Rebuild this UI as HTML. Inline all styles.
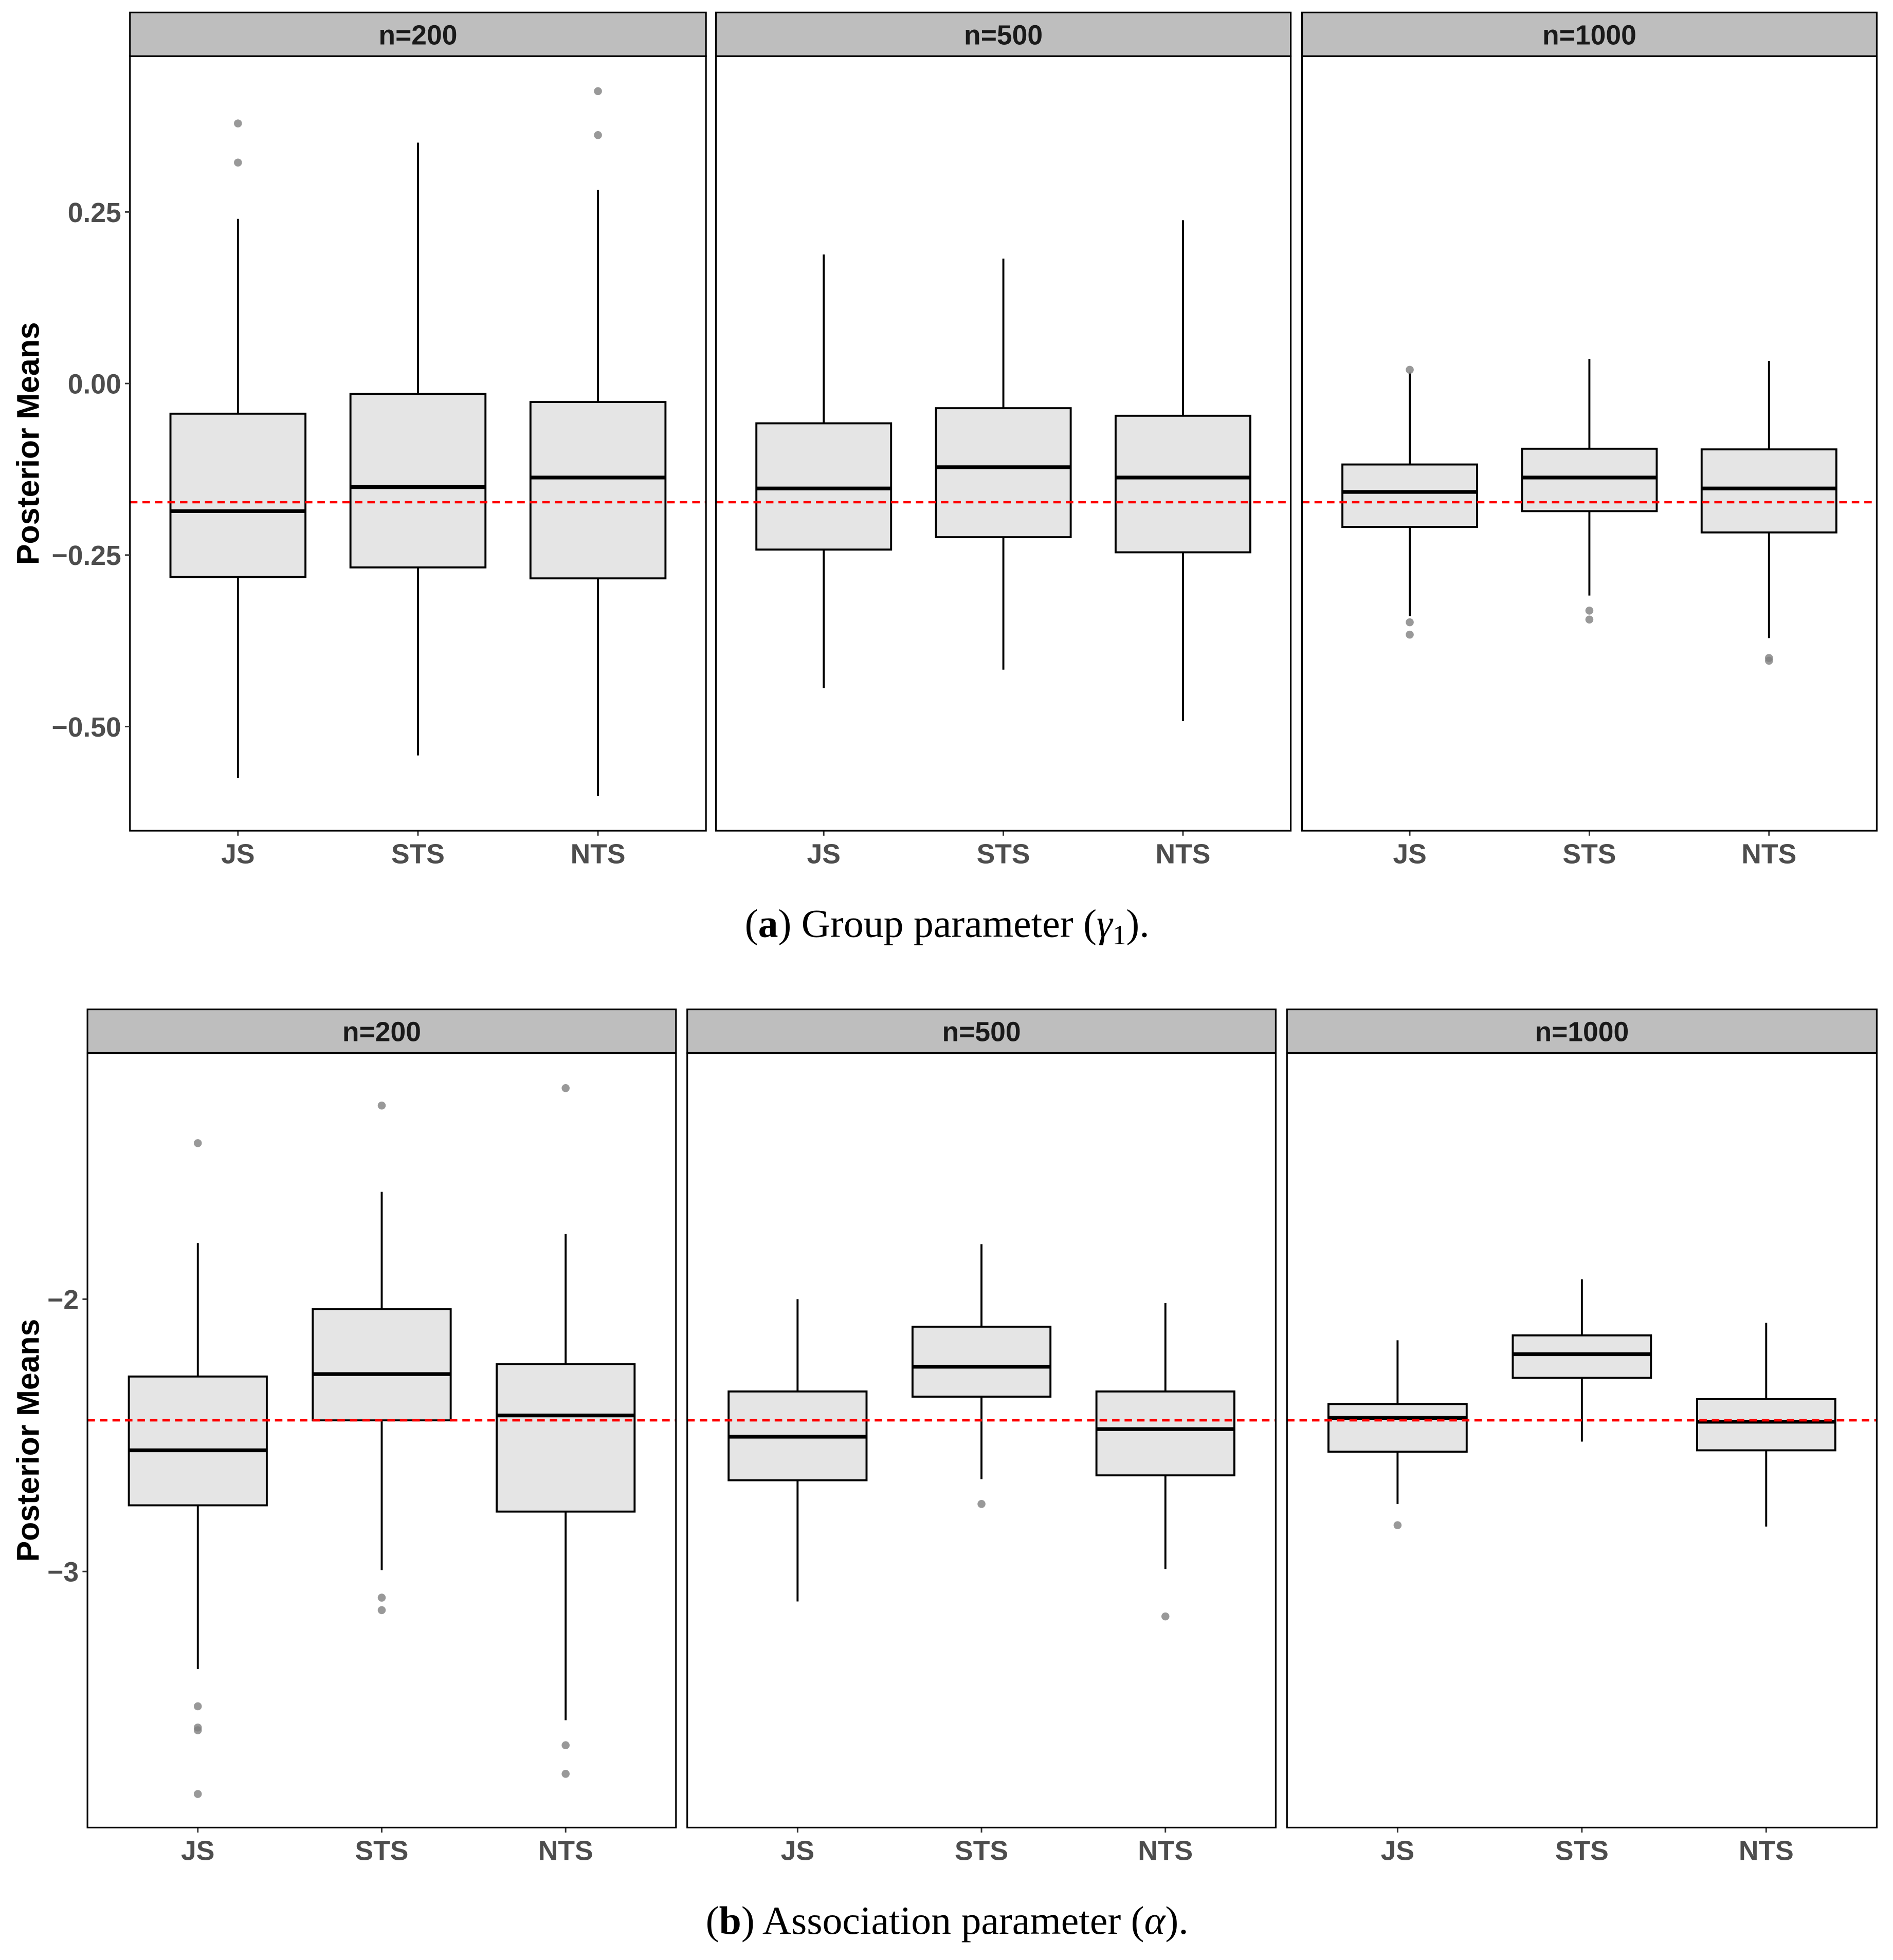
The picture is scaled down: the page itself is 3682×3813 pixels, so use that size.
<!DOCTYPE html>
<html><head><meta charset="utf-8">
<style>
html,body{margin:0;padding:0;background:#fff;}
svg{display:block;}
text{font-family:"Liberation Sans",sans-serif;}
</style></head>
<body>
<svg id="fig" width="3682" height="3813" viewBox="0 0 1515 1569" preserveAspectRatio="none" xmlns="http://www.w3.org/2000/svg"></svg>
<script>
// ---------- data ----------
const categories = ["JS","STS","NTS"];
const panelLabels = ["n=200","n=500","n=1000"];
// Chart A (gamma1): per panel, per category: [low, q1, median, q3, high]
const gammaStats = [
 [[-0.575,-0.282,-0.186,-0.044,0.240],[-0.542,-0.268,-0.151,-0.015,0.351],[-0.601,-0.284,-0.137,-0.027,0.282]],
 [[-0.444,-0.242,-0.153,-0.058,0.188],[-0.417,-0.224,-0.122,-0.036,0.182],[-0.492,-0.246,-0.137,-0.047,0.238]],
 [[-0.339,-0.209,-0.158,-0.118,0.016],[-0.309,-0.186,-0.137,-0.095,0.036],[-0.371,-0.217,-0.153,-0.096,0.033]]
];
const gammaOutliers = [
 [[0.379,0.322],[],[0.426,0.362]],
 [[],[],[]],
 [[0.020,-0.348,-0.366],[-0.331,-0.344],[-0.400,-0.404]]
];
const gammaTrue = -0.173;
const gammaTicks = [0.25,0.00,-0.25,-0.50];
const gammaTickLabels = ["0.25","0.00","\u22120.25","\u22120.50"];
// Chart B (alpha)
const alphaStats = [
 [[-3.358,-2.757,-2.555,-2.284,-1.794],[-2.995,-2.445,-2.275,-2.037,-1.606],[-3.546,-2.780,-2.427,-2.239,-1.761]],
 [[-3.110,-2.665,-2.505,-2.339,-2.000],[-2.661,-2.358,-2.248,-2.101,-1.798],[-2.991,-2.647,-2.477,-2.339,-2.014]],
 [[-2.752,-2.560,-2.436,-2.385,-2.151],[-2.523,-2.289,-2.202,-2.133,-1.927],[-2.835,-2.555,-2.450,-2.367,-2.087]]
];
const alphaOutliers = [
 [[-1.427,-3.495,-3.573,-3.583,-3.817],[-1.289,-3.096,-3.142],[-1.225,-3.638,-3.743]],
 [[],[-2.752],[-3.165]],
 [[-2.830],[],[]]
];
const alphaTrue = -2.445;
const alphaTicks = [-2,-3];
const alphaTickLabels = ["\u22122","\u22123"];

// ---------- drawing ----------
const svg = document.getElementById('fig');
const NS = "http://www.w3.org/2000/svg";
function el(tag, attrs, parent){
  const e = document.createElementNS(NS, tag);
  for (const k in attrs) e.setAttribute(k, attrs[k]);
  (parent||svg).appendChild(e);
  return e;
}

function drawChart(cfg){
  const g = el('g', {});
  
  
  const yScale = v => cfg.y0 + (v - cfg.v0) * cfg.k;
  cfg.panels.forEach((px, pi) => {
    const [x0, x1] = px;
    const w = x1 - x0;
    const xScale = i => x0 + w * (0.6 + i) / 3.2;
    const bw = w * 0.75 / 3.2;
    const pg = el('g', {}, g);
    
    
    const strip = el('rect', {x:x0, y:cfg.stripTop, width:w, height:cfg.plotTop-cfg.stripTop, fill:'#bebebe', stroke:'#000', 'stroke-width':1.3}, pg);
    
    
    const st = el('text', {x:x0+w/2, y:cfg.stripTop+(cfg.plotTop-cfg.stripTop)/2+8, 'text-anchor':'middle', 'font-size':22, 'font-weight':'bold', fill:'#1a1a1a'}, pg);
    st.textContent = panelLabels[pi];
    
    
    const bg = el('rect', {x:x0, y:cfg.plotTop, width:w, height:cfg.plotBottom-cfg.plotTop, fill:'#fff', stroke:'none'}, pg);
    
    
    categories.forEach((c, ci) => {
      const s = cfg.stats[pi][ci];
      const cx = xScale(ci);
      const bgp = el('g', {}, pg);
      
      
      el('line', {x1:cx, x2:cx, y1:yScale(s[4]), y2:yScale(s[3]), stroke:'#000', 'stroke-width':1.6}, bgp);
      el('line', {x1:cx, x2:cx, y1:yScale(s[1]), y2:yScale(s[0]), stroke:'#000', 'stroke-width':1.6}, bgp);
      el('rect', {x:cx-bw/2, y:yScale(s[3]), width:bw, height:yScale(s[1])-yScale(s[3]), fill:'#e5e5e5', stroke:'#000', 'stroke-width':1.6}, bgp);
      el('line', {x1:cx-bw/2, x2:cx+bw/2, y1:yScale(s[2]), y2:yScale(s[2]), stroke:'#000', 'stroke-width':3}, bgp);
      cfg.outliers[pi][ci].forEach(o => {
        const d = el('circle', {cx:cx, cy:yScale(o), r:3.2, fill:'#7f7f7f', 'fill-opacity':0.8}, bgp);
        
        
      });
      el('line', {x1:cx, x2:cx, y1:cfg.plotBottom, y2:cfg.plotBottom+4, stroke:'#333', 'stroke-width':1.2}, pg);
      const xl = el('text', {x:cx, y:cfg.plotBottom+26, 'text-anchor':'middle', 'font-size':22, 'font-weight':'bold', fill:'#4d4d4d'}, pg);
      xl.textContent = c;
      
      
    });
    const ref = el('line', {x1:x0, x2:x1, y1:yScale(cfg.trueVal), y2:yScale(cfg.trueVal), stroke:'#ff0000', 'stroke-width':1.8, 'stroke-dasharray':'6,4'}, pg);
    
    
    const border = el('rect', {x:x0, y:cfg.plotTop, width:w, height:cfg.plotBottom-cfg.plotTop, fill:'none', stroke:'#000', 'stroke-width':1.3}, pg);
    
    
  });
  const x0 = cfg.panels[0][0];
  cfg.ticks.forEach((t, i) => {
    el('line', {x1:x0-4, x2:x0, y1:yScale(t), y2:yScale(t), stroke:'#333', 'stroke-width':1.2}, g);
    const tl = el('text', {x:x0-7, y:yScale(t)+8, 'text-anchor':'end', 'font-size':22, 'font-weight':'bold', fill:'#4d4d4d'}, g);
    tl.textContent = cfg.tickLabels[i];
    
    
  });
  const yc = (cfg.plotTop + cfg.plotBottom)/2;
  const yt = el('text', {x:0, y:0, transform:`translate(31,${yc}) rotate(-90)`, 'text-anchor':'middle', 'font-size':25, 'font-weight':'bold', fill:'#000'}, g);
  yt.textContent = 'Posterior Means';
  
  
  const cap = el('text', {x:758, y:cfg.capY, 'text-anchor':'middle', 'font-size':32, fill:'#000', style:'font-family:"Liberation Serif",serif'}, g);
  cap.innerHTML = cfg.caption;
  
  
}

drawChart({
  name:'gamma-chart', panels:[[104,565],[573,1033],[1042,1502]],
  stripTop:10, plotTop:45, plotBottom:665,
  y0:307, v0:0, k:-549.3,
  stats:gammaStats, outliers:gammaOutliers, trueVal:gammaTrue,
  ticks:gammaTicks, tickLabels:gammaTickLabels, capY:750,
  caption:'(<tspan font-weight="bold">a</tspan>) Group parameter (<tspan font-style="italic">γ</tspan><tspan font-size="22" dy="6">1</tspan><tspan dy="-6">).</tspan>'
});
drawChart({
  name:'alpha-chart', panels:[[70,541],[550,1021],[1030,1502]],
  stripTop:808, plotTop:843, plotBottom:1463,
  y0:1040, v0:-2, k:-218,
  stats:alphaStats, outliers:alphaOutliers, trueVal:alphaTrue,
  ticks:alphaTicks, tickLabels:alphaTickLabels, capY:1548,
  caption:'(<tspan font-weight="bold">b</tspan>) Association parameter (<tspan font-style="italic">α</tspan>).'
});
</script>
</body></html>
